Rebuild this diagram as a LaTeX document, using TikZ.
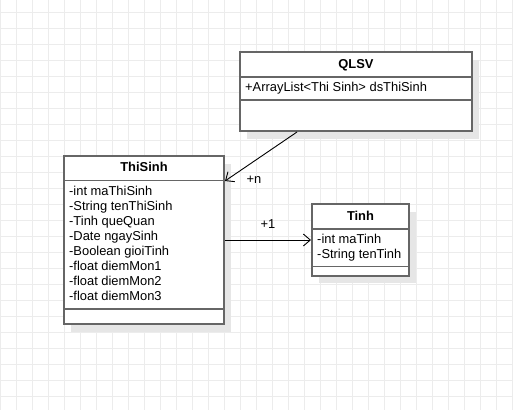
\documentclass[tikz,border=0pt]{standalone}
\usepackage{fontspec}
\setmainfont{Liberation Sans}
\usetikzlibrary{arrows.meta}
\definecolor{gridc}{RGB}{236,236,236}
\definecolor{boxc}{RGB}{102,102,102}
\definecolor{shadc}{RGB}{230,230,230}
\tikzset{
  classbox/.style={draw=boxc, line width=1.8pt, fill=white, rectangle, inner sep=0pt},
  shadowbox/.style={fill=shadc, draw=none},
  divider/.style={draw=boxc, line width=1.8pt},
  title/.style={font=\fontsize{12.9}{15}\selectfont\bfseries, inner sep=0pt, text height=9.3pt, text depth=2.7pt},
  attr/.style={font=\fontsize{12.9}{15}\selectfont, inner sep=0pt, anchor=west, text height=9.3pt, text depth=2.7pt},
  lbl/.style={font=\fontsize{12.9}{15}\selectfont, inner sep=0pt, text height=9.3pt, text depth=2.7pt},
  conn/.style={draw=black, line width=0.9pt, -{Straight Barb[length=7pt,width=12pt,line width=0.9pt]}}
}
\begin{document}
\begin{tikzpicture}[x=1pt,y=-1pt]
\useasboundingbox (0,0) rectangle (513,410);
\fill[white] (0,0) rectangle (513,410);
% grid
\foreach \gx in {0,16,...,512} \draw[gridc, line width=1pt] (\gx,0) -- (\gx,410);
\foreach \gy in {12,28,...,410} \draw[gridc, line width=1pt] (0,\gy) -- (513,\gy);

% shadows
\fill[shadowbox] (247,60) rectangle (479,139);
\fill[shadowbox] (71,164) rectangle (231,332);
\fill[shadowbox] (319,212) rectangle (416,283);

% QLSV
\draw[classbox] (240,52) rectangle (472,131);
\node[draw=none, inner sep=0pt, minimum width=232pt, minimum height=79pt] (qlsv) at (356,91.5) {};
\draw[divider] (240,77) -- (472,77);
\draw[divider] (240,100) -- (472,100);
\node[title] (qlsvt) at (356,65) {QLSV};
\node[attr] (qlsva) at (245,88.5) {+ArrayList<Thi Sinh> dsThiSinh};

% ThiSinh
\draw[classbox] (64,156) rectangle (224,324);
\node[draw=none, inner sep=0pt, minimum width=160pt, minimum height=168pt] (ts) at (144,240) {};
\draw[divider] (64,180.5) -- (224,180.5);
\draw[divider] (64,309) -- (224,309);
\node[title] (tst) at (144,168.5) {ThiSinh};
\node[attr] (ts1) at (69,192) {-int maThiSinh};
\node[attr] (ts2) at (69,207) {-String tenThiSinh};
\node[attr] (ts3) at (69,222) {-Tinh queQuan};
\node[attr] (ts4) at (69,237) {-Date ngaySinh};
\node[attr] (ts5) at (69,252) {-Boolean gioiTinh};
\node[attr] (ts6) at (69,267) {-float diemMon1};
\node[attr] (ts7) at (69,282) {-float diemMon2};
\node[attr] (ts8) at (69,297) {-float diemMon3};

% Tinh
\draw[classbox] (312,204) rectangle (409,276);
\node[draw=none, inner sep=0pt, minimum width=97pt, minimum height=72pt] (tinh) at (360.5,240) {};
\draw[divider] (312,229) -- (409,229);
\draw[divider] (312,266.5) -- (409,266.5);
\node[title] (tinht) at (360.5,217) {Tinh};
\node[attr] (tinh1) at (317,240.5) {-int maTinh};
\node[attr] (tinh2) at (317,255.5) {-String tenTinh};

% connectors
\coordinate (c1s) at (297,132);
\coordinate (c1e) at (225,181);
\draw[conn] (c1s) -- (c1e);
\node[lbl] (ln) at (254,180) {+n};
\coordinate (c2s) at (225,240);
\coordinate (c2e) at (311,240);
\draw[conn] (c2s) -- (c2e);
\node[lbl] (l1) at (268,225) {+1};
\end{tikzpicture}
\end{document}
